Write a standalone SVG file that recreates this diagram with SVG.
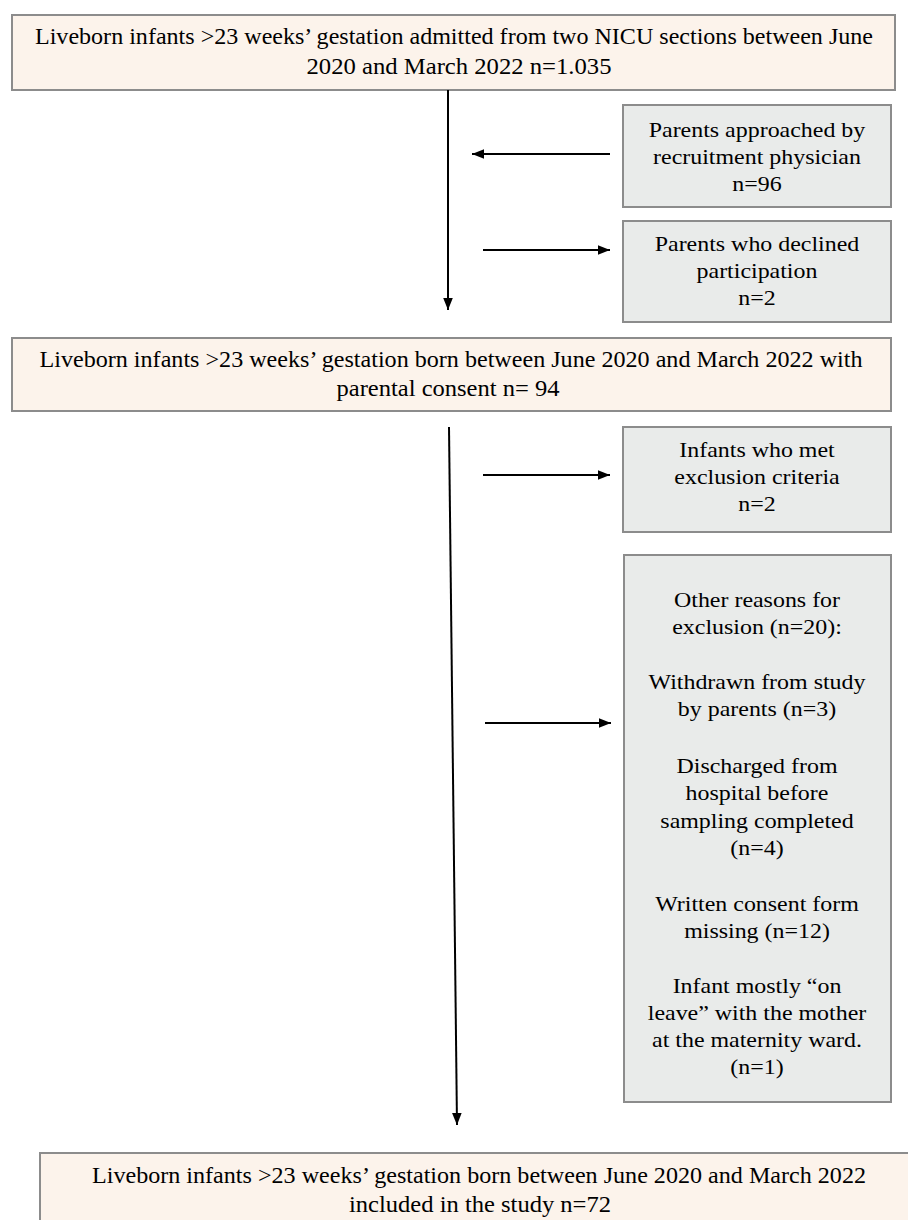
<svg xmlns="http://www.w3.org/2000/svg" width="908" height="1220" viewBox="0 0 908 1220">
<defs>
<style>
.main{fill:#fcf3eb;stroke:#8c8c8c;stroke-width:2}
.side{fill:#e9ebea;stroke:#8c8c8c;stroke-width:2}
text{fill:#000;text-anchor:middle}
.t{font-size:23.5px}
.s{font-size:21px}
.c{stroke:#000;stroke-width:2;fill:none}
</style>
<marker id="ah" viewBox="0 0 10 10" refX="10" refY="5" markerWidth="12" markerHeight="12" markerUnits="userSpaceOnUse" orient="auto">
<path d="M0,1 L10,5 L0,9 Z" fill="#000"/>
</marker>
</defs>
<rect width="908" height="1220" fill="#fff"/>
<g font-family="Liberation Serif, Times New Roman, serif">
<g id="n1">
<rect class="main" x="12" y="15" width="883" height="75"/>
<text class="t" x="454" y="44" textLength="838" lengthAdjust="spacingAndGlyphs">Liveborn infants &gt;23 weeks’ gestation admitted from two NICU sections between June</text>
<text class="t" x="459" y="74" textLength="305" lengthAdjust="spacingAndGlyphs">2020 and March 2022 n=1.035</text>
</g>
<g id="n2">
<rect class="side" x="623" y="105" width="268" height="102"/>
<g class="s" transform="translate(757,0) scale(1.14,1)">
<text x="0" y="137">Parents approached by</text>
<text x="0" y="164">recruitment physician</text>
<text x="0" y="191">n=96</text>
</g>
</g>
<g id="n3">
<rect class="side" x="623" y="221" width="268" height="101"/>
<g class="s" transform="translate(757,0) scale(1.14,1)">
<text x="0" y="251">Parents who declined</text>
<text x="0" y="278">participation</text>
<text x="0" y="305">n=2</text>
</g>
</g>
<g id="n4">
<rect class="main" x="12" y="338" width="879" height="73"/>
<text class="t" x="451" y="367" textLength="823" lengthAdjust="spacingAndGlyphs">Liveborn infants &gt;23 weeks’ gestation born between June 2020 and March 2022 with</text>
<text class="t" x="448" y="396" textLength="223" lengthAdjust="spacingAndGlyphs">parental consent n= 94</text>
</g>
<g id="n5">
<rect class="side" x="623" y="427" width="268" height="105"/>
<g class="s" transform="translate(757,0) scale(1.14,1)">
<text x="0" y="457">Infants who met</text>
<text x="0" y="484">exclusion criteria</text>
<text x="0" y="511">n=2</text>
</g>
</g>
<g id="n6">
<rect class="side" x="624" y="555" width="267" height="547"/>
<g class="s" transform="translate(757,0) scale(1.14,1)">
<text x="0" y="607">Other reasons for</text>
<text x="0" y="634">exclusion (n=20):</text>
<text x="0" y="689">Withdrawn from study</text>
<text x="0" y="716">by parents (n=3)</text>
<text x="0" y="773">Discharged from</text>
<text x="0" y="800">hospital before</text>
<text x="0" y="828">sampling completed</text>
<text x="0" y="855">(n=4)</text>
<text x="0" y="911">Written consent form</text>
<text x="0" y="938">missing (n=12)</text>
<text x="0" y="993">Infant mostly “on</text>
<text x="0" y="1020">leave” with the mother</text>
<text x="0" y="1047">at the maternity ward.</text>
<text x="0" y="1074">(n=1)</text>
</g>
</g>
<g id="n7">
<rect class="main" x="40" y="1153" width="880" height="80"/>
<text class="t" x="479" y="1183" textLength="774" lengthAdjust="spacingAndGlyphs">Liveborn infants &gt;23 weeks’ gestation born between June 2020 and March 2022</text>
<text class="t" x="480" y="1212" textLength="262" lengthAdjust="spacingAndGlyphs">included in the study n=72</text>
</g>
</g>
<g id="connectors">
<line class="c" x1="448" y1="90" x2="448" y2="310" marker-end="url(#ah)"/>
<line class="c" x1="610" y1="154" x2="472" y2="154" marker-end="url(#ah)"/>
<line class="c" x1="483" y1="250" x2="610" y2="250" marker-end="url(#ah)"/>
<line class="c" x1="449" y1="427" x2="457" y2="1125" marker-end="url(#ah)"/>
<line class="c" x1="483" y1="475" x2="610" y2="475" marker-end="url(#ah)"/>
<line class="c" x1="485" y1="723" x2="611" y2="723" marker-end="url(#ah)"/>
</g>
</svg>
